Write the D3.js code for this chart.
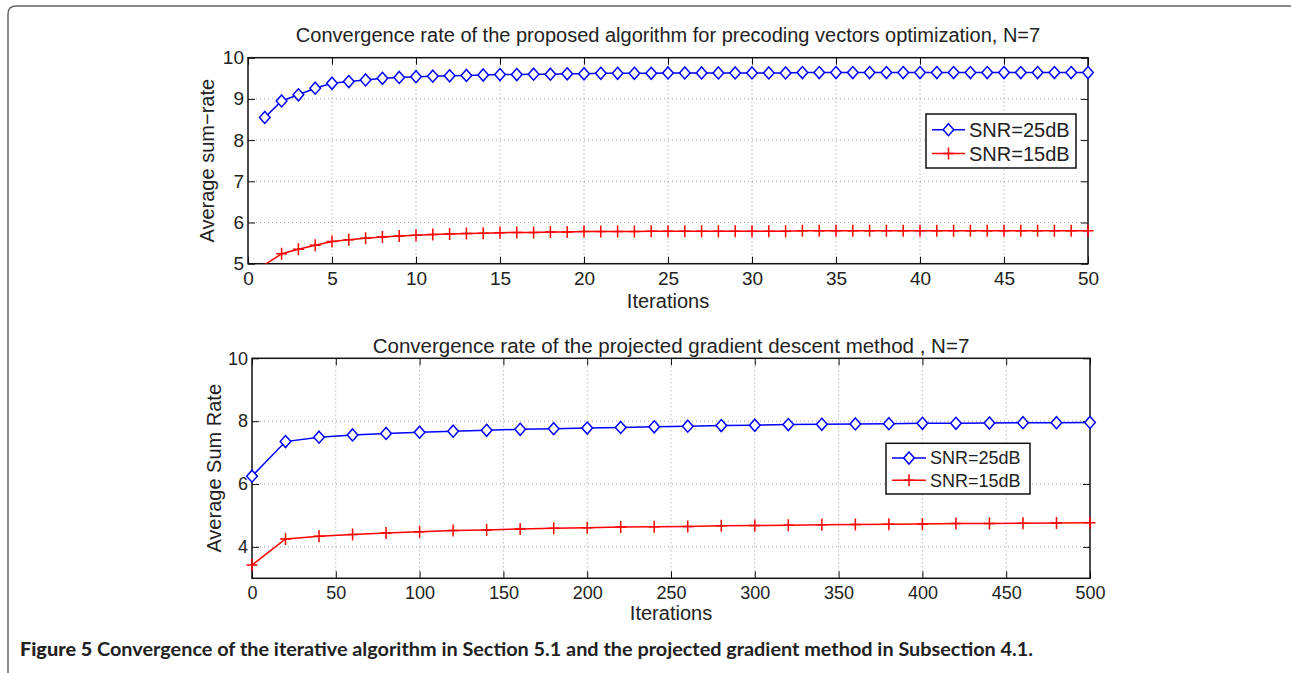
<!DOCTYPE html>
<html>
<head>
<meta charset="utf-8">
<script src="https://cdn.jsdelivr.net/npm/d3@7"></script>
<style>
  body { margin: 0; background: #fff; }
  svg text { font-family: "Liberation Sans", Arial, Helvetica, sans-serif; fill: #222; }
</style>
</head>
<body>
<div id="chart"></div>
<script>
// top panel: iterations 1..50
var topIter = [1, 2, 3, 4, 5, 6, 7, 8, 9, 10, 11, 12, 13, 14, 15, 16, 17, 18, 19, 20,
  21, 22, 23, 24, 25, 26, 27, 28, 29, 30, 31, 32, 33, 34, 35, 36, 37, 38, 39, 40,
  41, 42, 43, 44, 45, 46, 47, 48, 49, 50];
var top25 = [8.55, 8.95, 9.10, 9.26, 9.38, 9.42, 9.46, 9.50, 9.52, 9.54, 9.55, 9.56, 9.57, 9.58, 9.59,
  9.59, 9.60, 9.60, 9.61, 9.61, 9.62, 9.62, 9.62, 9.62, 9.63, 9.63, 9.63, 9.63, 9.63, 9.63,
  9.63, 9.63, 9.64, 9.64, 9.64, 9.64, 9.64, 9.64, 9.64, 9.64, 9.64, 9.64, 9.64, 9.64, 9.64,
  9.64, 9.64, 9.64, 9.64, 9.64];
var top15 = [4.98, 5.24, 5.35, 5.45, 5.54, 5.58, 5.62, 5.65, 5.67, 5.69, 5.71, 5.72, 5.73, 5.74, 5.75,
  5.76, 5.76, 5.77, 5.77, 5.78, 5.78, 5.78, 5.78, 5.79, 5.79, 5.79, 5.79, 5.79, 5.79, 5.79,
  5.79, 5.79, 5.80, 5.80, 5.80, 5.80, 5.80, 5.80, 5.80, 5.80, 5.80, 5.80, 5.80, 5.80, 5.80,
  5.80, 5.80, 5.80, 5.80, 5.80];
var topXTicks = [0, 5, 10, 15, 20, 25, 30, 35, 40, 45, 50];
var topYTicks = [5, 6, 7, 8, 9, 10];

// bottom panel: iterations 0..500 step 20
var botIter = [0, 20, 40, 60, 80, 100, 120, 140, 160, 180, 200, 220, 240, 260, 280, 300,
  320, 340, 360, 380, 400, 420, 440, 460, 480, 500];
var bot25 = [6.25, 7.35, 7.49, 7.56, 7.61, 7.65, 7.68, 7.71, 7.74, 7.76, 7.78, 7.80, 7.82, 7.84, 7.86,
  7.87, 7.89, 7.90, 7.91, 7.92, 7.93, 7.93, 7.94, 7.95, 7.95, 7.96];
var bot15 = [3.42, 4.25, 4.34, 4.39, 4.44, 4.48, 4.52, 4.54, 4.57, 4.59, 4.61, 4.63, 4.64, 4.65, 4.67,
  4.68, 4.69, 4.70, 4.71, 4.72, 4.73, 4.74, 4.74, 4.75, 4.76, 4.77];
var botXTicks = [0, 50, 100, 150, 200, 250, 300, 350, 400, 450, 500];
var botYTicks = [4, 6, 8, 10];

var legendNames = ['SNR=25dB', 'SNR=15dB'];

var W = 1291, H = 673;
var svg = d3.select('#chart').append('svg')
  .attr('width', W)
  .attr('height', H);

// figure frame with rounded top-left corner
svg.append('path')
  .attr('d', 'M8,673 V14 Q8,6 16,6 H1291')
  .style('fill', 'none')
  .style('stroke', '#666')
  .style('stroke-width', 1.5);

var diamond = 'M0,-6L5.3,0L0,6L-5.3,0Z';
var plus = 'M-5.5,0H5.5M0,-6V6';

function drawPanel(cfg) {
  var x = d3.scaleLinear().domain(cfg.xDomain).range([cfg.left, cfg.right]);
  var y = d3.scaleLinear().domain(cfg.yDomain).range([cfg.bottom, cfg.top]);
  var g = svg.append('g');

  // dotted grid
  g.selectAll('.gx').data(cfg.xTicks.slice(1, -1)).enter().append('line')
    .attr('x1', d => x(d)).attr('x2', d => x(d))
    .attr('y1', cfg.top).attr('y2', cfg.bottom)
    .style('stroke', '#999').style('stroke-width', 1).style('stroke-dasharray', '1,3');
  g.selectAll('.gy').data(cfg.yTicks.filter(d => d > cfg.yDomain[0] && d < cfg.yDomain[1])).enter().append('line')
    .attr('x1', cfg.left).attr('x2', cfg.right)
    .attr('y1', d => y(d)).attr('y2', d => y(d))
    .style('stroke', '#999').style('stroke-width', 1).style('stroke-dasharray', '1,3');

  // axes, ticks inward on all sides
  var tl = 7;
  var fmt = d3.format('d');
  g.append('g').attr('transform', 'translate(0,' + cfg.bottom + ')')
    .call(d3.axisBottom(x).tickValues(cfg.xTicks).tickSize(-tl).tickPadding(8).tickFormat(fmt))
    .call(a => a.select('.domain').remove());
  g.append('g').attr('transform', 'translate(0,' + cfg.top + ')')
    .call(d3.axisTop(x).tickValues(cfg.xTicks).tickSize(-tl).tickFormat(''))
    .call(a => a.select('.domain').remove());
  g.append('g').attr('transform', 'translate(' + cfg.left + ',0)')
    .call(d3.axisLeft(y).tickValues(cfg.yTicks).tickSize(-tl).tickPadding(4).tickFormat(fmt))
    .call(a => a.select('.domain').remove());
  g.append('g').attr('transform', 'translate(' + cfg.right + ',0)')
    .call(d3.axisRight(y).tickValues(cfg.yTicks).tickSize(-tl).tickFormat(''))
    .call(a => a.select('.domain').remove());
  g.selectAll('.tick line').style('stroke', '#111').style('stroke-width', 1);
  g.selectAll('.tick text')
    .style('font-size', cfg.tickSize + 'px')
    .style('font-family', '"Liberation Sans", Arial, sans-serif')
    .style('fill', '#222');

  g.append('rect')
    .attr('x', cfg.left).attr('y', cfg.top)
    .attr('width', cfg.right - cfg.left).attr('height', cfg.bottom - cfg.top)
    .style('fill', 'none').style('stroke', '#111').style('stroke-width', 1.5);

  var clipId = 'clip' + cfg.id;
  svg.append('clipPath').attr('id', clipId).append('rect')
    .attr('x', cfg.left).attr('y', cfg.top)
    .attr('width', cfg.right - cfg.left).attr('height', cfg.bottom - cfg.top);

  var series = [
    {vals: cfg.s25, color: '#0000ff', marker: diamond},
    {vals: cfg.s15, color: '#ff0000', marker: plus}
  ];
  series.forEach(function (s) {
    var pts = cfg.xs.map((d, i) => [d, s.vals[i]]);
    g.append('path')
      .datum(pts)
      .attr('clip-path', 'url(#' + clipId + ')')
      .attr('d', d3.line().x(d => x(d[0])).y(d => y(d[1])))
      .style('fill', 'none').style('stroke', s.color).style('stroke-width', 1.5);
    g.selectAll(null).data(pts.filter(d => d[1] >= cfg.yDomain[0])).enter().append('path')
      .attr('transform', d => 'translate(' + x(d[0]) + ',' + y(d[1]) + ')')
      .attr('d', s.marker)
      .style('fill', s.marker === diamond ? '#fff' : 'none')
      .style('stroke', s.color).style('stroke-width', 1.5);
  });

  // titles and labels
  var cx = (cfg.left + cfg.right) / 2;
  svg.append('text').attr('x', cx).attr('y', cfg.titleY)
    .attr('text-anchor', 'middle').style('font-size', cfg.titleSize + 'px')
    .text(cfg.title);
  svg.append('text').attr('x', cx).attr('y', cfg.xLabelY)
    .attr('text-anchor', 'middle').style('font-size', cfg.labelSize + 'px')
    .text('Iterations');
  svg.append('text')
    .attr('transform', 'translate(' + cfg.yLabelX + ',' + (cfg.top + cfg.bottom) / 2 + ') rotate(-90)')
    .attr('text-anchor', 'middle').style('font-size', cfg.yLabelSize + 'px')
    .text(cfg.yLabel);

  // legend
  var lg = cfg.legend;
  svg.append('rect')
    .attr('x', lg.x).attr('y', lg.y).attr('width', lg.w).attr('height', lg.h)
    .style('fill', '#fff').style('stroke', '#111').style('stroke-width', 1.5);
  series.forEach(function (s, i) {
    var ry = lg.y + lg.h * (i === 0 ? 0.29 : 0.73);
    svg.append('line')
      .attr('x1', lg.x + 6).attr('x2', lg.x + 6 + lg.line)
      .attr('y1', ry).attr('y2', ry)
      .style('stroke', s.color).style('stroke-width', 1.5);
    svg.append('path')
      .attr('transform', 'translate(' + (lg.x + 6 + lg.line / 2) + ',' + ry + ')')
      .attr('d', s.marker)
      .style('fill', s.marker === diamond ? '#fff' : 'none')
      .style('stroke', s.color).style('stroke-width', 1.5);
    svg.append('text')
      .attr('x', lg.x + 6 + lg.line + 4).attr('y', ry)
      .attr('dy', '0.36em')
      .style('font-size', lg.size + 'px')
      .text(legendNames[i]);
  });
}

drawPanel({
  id: 'top', left: 248, right: 1088, top: 57.7, bottom: 263.7,
  xDomain: [0, 50], yDomain: [5, 10], xTicks: topXTicks, yTicks: topYTicks,
  xs: topIter, s25: top25, s15: top15, tickSize: 19,
  title: 'Convergence rate of the proposed algorithm for precoding vectors optimization, N=7',
  titleY: 42, titleSize: 20, xLabelY: 308, labelSize: 20,
  yLabel: 'Average sum\u2212rate', yLabelX: 214, yLabelSize: 20,
  legend: {x: 926, y: 114, w: 150, h: 54, line: 33, size: 20}
});

drawPanel({
  id: 'bot', left: 252, right: 1090, top: 358.3, bottom: 578.3,
  xDomain: [0, 500], yDomain: [3, 10], xTicks: botXTicks, yTicks: botYTicks,
  xs: botIter, s25: bot25, s15: bot15, tickSize: 18,
  title: 'Convergence rate of the projected gradient descent method , N=7',
  titleY: 353, titleSize: 20.5, xLabelY: 620, labelSize: 20,
  yLabel: 'Average Sum Rate', yLabelX: 221, yLabelSize: 20,
  legend: {x: 886, y: 443.3, w: 144, h: 50.7, line: 34, size: 18}
});

// caption
var cap = svg.append('text')
  .attr('x', 20).attr('y', 656)
  .attr('textLength', 1013)
  .attr('lengthAdjust', 'spacingAndGlyphs')
  .style('font-family', 'Lato, "Open Sans", sans-serif')
  .style('font-size', '19px')
  .style('font-weight', 'bold');
cap.append('tspan').style('font-weight', 900).text('Figure 5');
cap.append('tspan').text(' Convergence of the iterative algorithm in Section 5.1 and the projected gradient method in Subsection 4.1.');
</script>
</body>
</html>
